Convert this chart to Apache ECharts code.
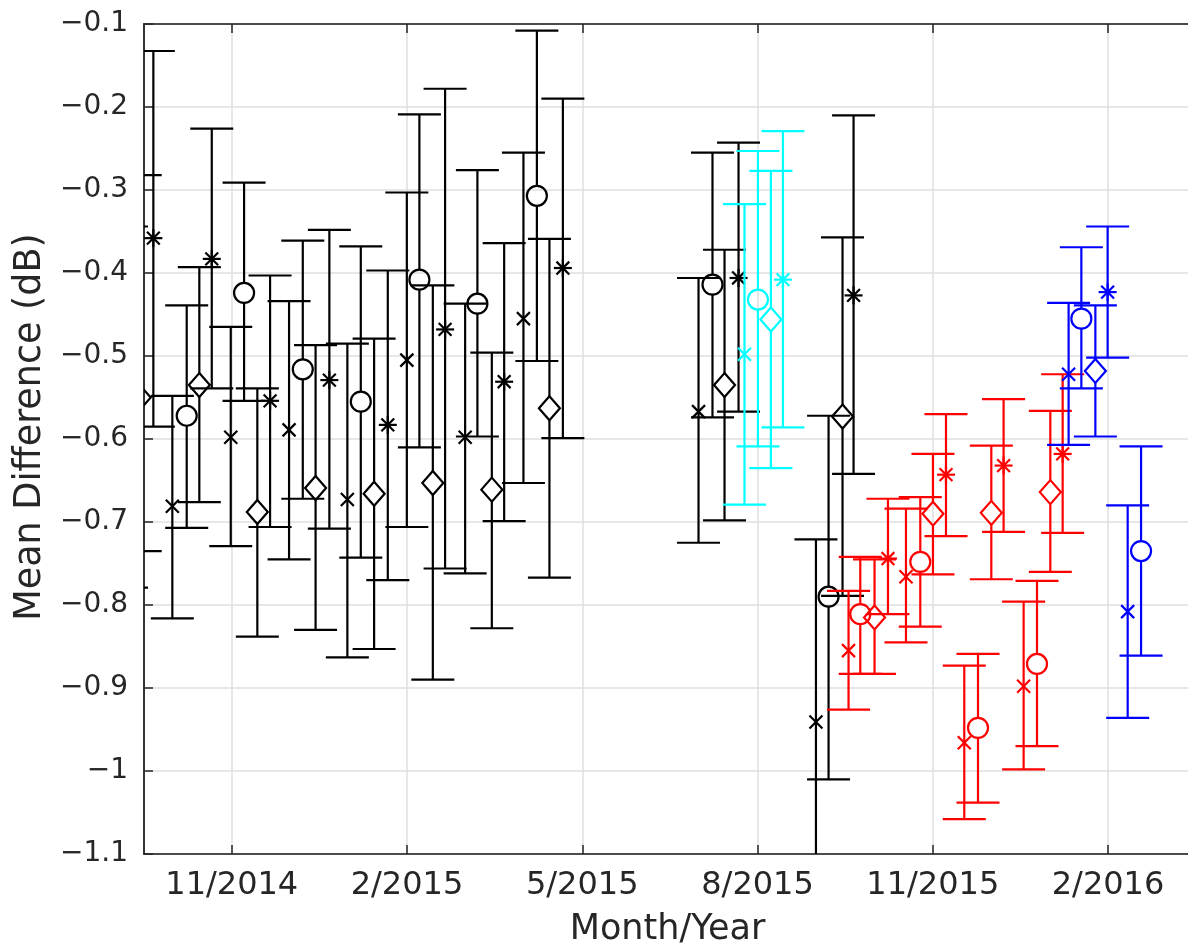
<!DOCTYPE html>
<html>
<head>
<meta charset="utf-8">
<script src="https://cdn.jsdelivr.net/npm/echarts@6/dist/echarts.min.js"></script>
<style>
html,body{margin:0;padding:0;background:#fff;}
#chart{width:1188px;height:950px;}
</style>
</head>
<body>
<div id="chart"></div>
<script>
// x positions are in months after 1 Nov 2014
const xTickValues = [0, 3, 6, 9, 12, 15];
const xTickLabels = ['11/2014', '2/2015', '5/2015', '8/2015', '11/2015', '2/2016'];

const blackX = [-1.801, -1.567, -1.342, -1.017, -0.771, -0.555, -0.342, -0.017, 0.211, 0.438, 0.656, 0.981, 1.216, 1.435, 1.671, 1.979, 2.209, 2.437, 2.671, 2.997, 3.212, 3.442, 3.652, 3.995, 4.205, 4.452, 4.663, 4.993, 5.223, 5.438, 5.668, 7.990, 8.229, 8.435, 8.675, 10.0, 10.216, 10.455, 10.644];
const blackMarker = ['o','d','*','x','o','d','*','x','o','d','*','x','o','d','*','x','o','d','*','x','o','d','*','x','o','d','*','x','o','d','*','x','o','d','*','x','o','d','*'];
const blackMean = [-0.56, -0.55, -0.358, -0.681, -0.572, -0.535, -0.383, -0.598, -0.424, -0.688, -0.554, -0.589, -0.516, -0.659, -0.529, -0.673, -0.555, -0.666, -0.583, -0.505, -0.408, -0.653, -0.468, -0.598, -0.437, -0.661, -0.531, -0.455, -0.307, -0.563, -0.394, -0.567, -0.414, -0.535, -0.406, -0.941, -0.790, -0.573, -0.427];
const blackLow = [-0.779, -0.735, -0.585, -0.816, -0.707, -0.676, -0.539, -0.729, -0.554, -0.838, -0.706, -0.745, -0.672, -0.830, -0.708, -0.863, -0.743, -0.853, -0.770, -0.706, -0.610, -0.890, -0.756, -0.762, -0.597, -0.828, -0.699, -0.653, -0.506, -0.767, -0.599, -0.725, -0.574, -0.698, -0.567, -1.16, -1.010, -0.789, -0.642];
const blackHigh = [-0.344, -0.282, -0.1325, -0.548, -0.439, -0.393, -0.226, -0.465, -0.291, -0.539, -0.403, -0.434, -0.361, -0.487, -0.348, -0.485, -0.368, -0.479, -0.397, -0.303, -0.209, -0.415, -0.178, -0.437, -0.276, -0.496, -0.364, -0.255, -0.108, -0.359, -0.190, -0.406, -0.255, -0.372, -0.243, -0.721, -0.572, -0.357, -0.210];

const cyanX = [8.777, 9.007, 9.229, 9.435];
const cyanMarker = ['x','o','d','*'];
const cyanMean = [-0.498, -0.432, -0.456, -0.408];
const cyanLow = [-0.679, -0.609, -0.635, -0.586];
const cyanHigh = [-0.317, -0.253, -0.277, -0.229];

const redX = [10.558, 10.759, 11.003, 11.233, 11.541, 11.786, 12.003, 12.226, 12.539, 12.774, 13.002, 13.212, 13.555, 13.784, 14.012, 14.223];
const redMarker = ['x','o','d','*','x','o','d','*','x','o','d','*','x','o','d','*'];
const redMean = [-0.855, -0.811, -0.815, -0.744, -0.766, -0.748, -0.690, -0.643, -0.966, -0.948, -0.689, -0.632, -0.898, -0.871, -0.664, -0.618];
const redLow = [-0.926, -0.883, -0.883, -0.811, -0.845, -0.826, -0.763, -0.717, -1.058, -1.038, -0.769, -0.712, -0.998, -0.970, -0.760, -0.713];
const redHigh = [-0.783, -0.742, -0.745, -0.672, -0.684, -0.670, -0.618, -0.570, -0.873, -0.859, -0.608, -0.552, -0.796, -0.771, -0.566, -0.522];

const blueX = [14.325, 14.543, 14.783, 14.993, 15.336, 15.565];
const blueMarker = ['x','o','d','*','x','o'];
const blueMean = [-0.522, -0.455, -0.518, -0.423, -0.808, -0.735];
const blueLow = [-0.607, -0.539, -0.597, -0.502, -0.936, -0.861];
const blueHigh = [-0.436, -0.369, -0.439, -0.344, -0.680, -0.609];

const AXIS_COLOR = '#262626';
const FONT = 'DejaVu Sans';

function makeSeries(name, color, xs, means, lows, highs, markers) {
  return {
    type: 'custom',
    name: name,
    clip: true,
    silent: true,
    data: xs.map(function (x, i) { return [x, means[i], lows[i], highs[i]]; }),
    encode: { x: 0, y: [1, 2, 3] },
    renderItem: function (params, api) {
      const x = api.value(0);
      const pm = api.coord([x, api.value(1)]);
      const pl = api.coord([x, api.value(2)]);
      const ph = api.coord([x, api.value(3)]);
      const mk = markers[params.dataIndex];
      const st = { stroke: color, lineWidth: 2.2, fill: null };
      const hw = 21.5;
      const gap = mk === 'o' ? 10 : (mk === 'd' ? 12 : 0);
      const cx = pm[0], cy = pm[1];
      const ch = [];
      ch.push({ type: 'line', shape: { x1: ph[0], y1: ph[1], x2: cx, y2: cy - gap }, style: st });
      ch.push({ type: 'line', shape: { x1: cx, y1: cy + gap, x2: pl[0], y2: pl[1] }, style: st });
      ch.push({ type: 'line', shape: { x1: ph[0] - hw, y1: ph[1], x2: ph[0] + hw, y2: ph[1] }, style: st });
      ch.push({ type: 'line', shape: { x1: pl[0] - hw, y1: pl[1], x2: pl[0] + hw, y2: pl[1] }, style: st });
      if (mk === 'o') {
        ch.push({ type: 'circle', shape: { cx: cx, cy: cy, r: 10 }, style: st });
      } else if (mk === 'd') {
        ch.push({ type: 'polygon', shape: { points: [[cx, cy - 12], [cx + 10.5, cy], [cx, cy + 12], [cx - 10.5, cy]] }, style: st });
      } else if (mk === 'x') {
        const s = 6.5;
        ch.push({ type: 'line', shape: { x1: cx - s, y1: cy - s, x2: cx + s, y2: cy + s }, style: st });
        ch.push({ type: 'line', shape: { x1: cx - s, y1: cy + s, x2: cx + s, y2: cy - s }, style: st });
      } else if (mk === '*') {
        const s = 9, d = 6.4;
        ch.push({ type: 'line', shape: { x1: cx - s, y1: cy, x2: cx + s, y2: cy }, style: st });
        ch.push({ type: 'line', shape: { x1: cx, y1: cy - s, x2: cx, y2: cy + s }, style: st });
        ch.push({ type: 'line', shape: { x1: cx - d, y1: cy - d, x2: cx + d, y2: cy + d }, style: st });
        ch.push({ type: 'line', shape: { x1: cx - d, y1: cy + d, x2: cx + d, y2: cy - d }, style: st });
      }
      return { type: 'group', children: ch };
    }
  };
}

function fmtY(v) {
  const s = String(+(+v).toFixed(1));
  return s.replace('-', '\u2212');
}

const chart = echarts.init(document.getElementById('chart'), null, { renderer: 'canvas' });
const option = {
  animation: false,
  backgroundColor: '#ffffff',
  grid: {
    left: 144, top: 24, right: -3, bottom: 96,
    outerBoundsMode: 'none', containLabel: false,
    show: true, borderColor: AXIS_COLOR, borderWidth: 1.5, backgroundColor: 'transparent'
  },
  xAxis: [{
    type: 'value',
    min: -1.502,
    max: 16.42,
    name: 'Month/Year',
    nameLocation: 'middle',
    nameGap: 58,
    nameTextStyle: { fontFamily: FONT, fontSize: 35, color: AXIS_COLOR },
    axisLine: { show: true, onZero: false, lineStyle: { color: AXIS_COLOR, width: 1.5 } },
    axisTick: { show: true, inside: true, length: 9, customValues: xTickValues, lineStyle: { color: AXIS_COLOR, width: 1.5 } },
    axisLabel: {
      show: true, customValues: xTickValues, margin: 16,
      fontFamily: FONT, fontSize: 32, color: AXIS_COLOR,
      formatter: function (v) { const i = xTickValues.indexOf(Math.round(v)); return i >= 0 ? xTickLabels[i] : ''; }
    },
    splitLine: { show: true, lineStyle: { color: '#dfdfdf', width: 1.5 } }
  }, {
    type: 'value',
    position: 'top',
    min: -1.502,
    max: 16.42,
    axisLine: { show: true, onZero: false, lineStyle: { color: AXIS_COLOR, width: 1.5 } },
    axisTick: { show: true, inside: true, length: 9, customValues: xTickValues, lineStyle: { color: AXIS_COLOR, width: 1.5 } },
    axisLabel: { show: false },
    splitLine: { show: false }
  }],
  yAxis: {
    type: 'value',
    min: -1.1,
    max: -0.1,
    interval: 0.1,
    name: 'Mean Difference (dB)',
    nameLocation: 'middle',
    nameGap: 93,
    nameTextStyle: { fontFamily: FONT, fontSize: 36.5, color: AXIS_COLOR, padding: [0, 0, 0, 24] },
    axisLine: { show: true, onZero: false, lineStyle: { color: AXIS_COLOR, width: 1.5 } },
    axisTick: { show: true, inside: true, length: 9, lineStyle: { color: AXIS_COLOR, width: 1.5 } },
    axisLabel: { margin: 16, fontFamily: FONT, fontSize: 28, color: AXIS_COLOR, formatter: fmtY },
    splitLine: { show: true, lineStyle: { color: '#dfdfdf', width: 1.5 } }
  },
  series: [
    makeSeries('black', '#000000', blackX, blackMean, blackLow, blackHigh, blackMarker),
    makeSeries('cyan', '#00FFFF', cyanX, cyanMean, cyanLow, cyanHigh, cyanMarker),
    makeSeries('red', '#FF0000', redX, redMean, redLow, redHigh, redMarker),
    makeSeries('blue', '#0000FF', blueX, blueMean, blueLow, blueHigh, blueMarker)
  ]
};
chart.setOption(option);
</script>
</body>
</html>
